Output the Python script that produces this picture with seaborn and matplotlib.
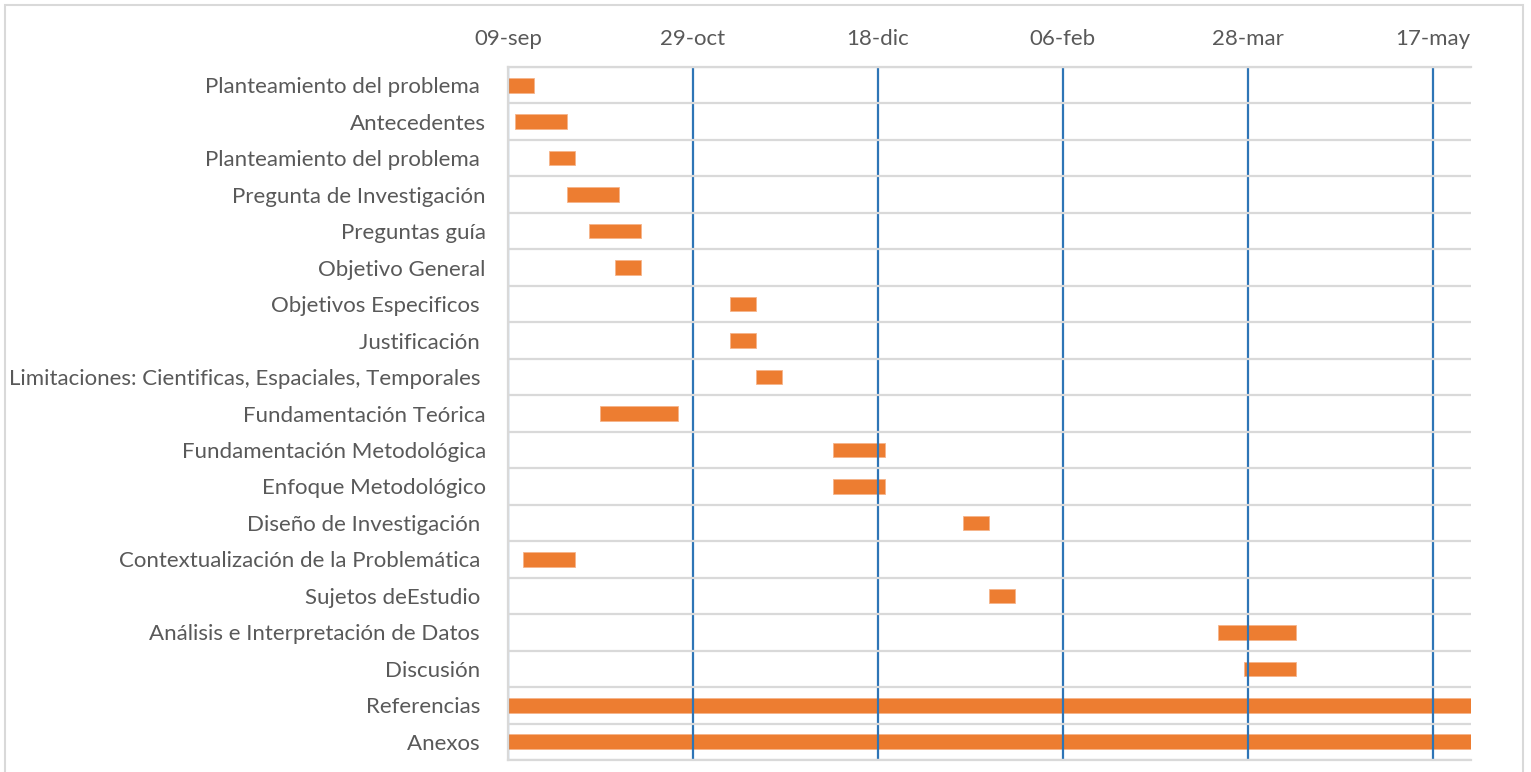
import matplotlib
matplotlib.use("Agg")
import matplotlib.pyplot as plt
import matplotlib.dates as mdates
from matplotlib.patches import Rectangle
import pandas as pd
import seaborn as sns

sns.set_theme(style="white")
plt.rcParams['font.family'] = ['Lato', 'DejaVu Sans']

# tasks (some labels keep the trailing space of the source sheet)
tasks = ["Planteamiento del problema ", "Antecedentes", "Planteamiento del problema ",
         "Pregunta de Investigación", "Preguntas guía", "Objetivo General",
         "Objetivos Especificos ", "Justificación ", "Limitaciones: Cientificas, Espaciales, Temporales ",
         "Fundamentación Teórica", "Fundamentación Metodológica", "Enfoque Metodológico",
         "Diseño de Investigación ", "Contextualización de la Problemática ", "Sujetos deEstudio ",
         "Análisis e Interpretación de Datos ", "Discusión ", "Referencias ", "Anexos "]
start = ["2018-09-09", "2018-09-11", "2018-09-20", "2018-09-25", "2018-10-01", "2018-10-08",
         "2018-11-08", "2018-11-08", "2018-11-15", "2018-10-04", "2018-12-06", "2018-12-06",
         "2019-01-10", "2018-09-13", "2019-01-17", "2019-03-20", "2019-03-27",
         "2018-09-09", "2018-09-09"]
duration = [7, 14, 7, 14, 14, 7, 7, 7, 7, 21, 14, 14, 7, 14, 7, 21, 14, 280, 280]

tick_dates = ["2018-09-09", "2018-10-29", "2018-12-18", "2019-02-06", "2019-03-28", "2019-05-17"]
tick_labels = ["09-sep", "29-oct", "18-dic", "06-feb", "28-mar", "17-may"]

df = pd.DataFrame({"task": tasks, "start": pd.to_datetime(start), "days": duration})
df["left"] = mdates.date2num(df["start"])

fig = plt.figure(figsize=(15.31, 7.72), dpi=100)
ax = fig.add_axes([508 / 1531, 12 / 772, (1471 - 508) / 1531, (760 - 67) / 772])

ax.barh(range(len(df)), df["days"], left=df["left"], height=0.4,
        color="#ed7d31", edgecolor="#f6b48a", linewidth=0.6, zorder=1)

x0 = mdates.date2num(pd.Timestamp("2018-09-09"))
ax.set_xlim(x0, x0 + 260.4)
ax.set_ylim(len(df) - 0.5, -0.5)

ax.set_xticks(mdates.date2num(pd.to_datetime(tick_dates)))
ax.set_xticklabels(tick_labels)
ax.xaxis.tick_top()
ax.set_yticks(range(len(df)))
ax.set_yticklabels(df["task"])
ax.set_yticks([i + 0.5 for i in range(-1, len(df))], minor=True)

ax.tick_params(axis="x", length=0, pad=13, labelsize=16, labelcolor="#595959")
ax.tick_params(axis="y", which="major", length=0, pad=16, labelsize=16, labelcolor="#595959")
ax.tick_params(axis="y", which="minor", length=0)

ax.grid(axis="x", which="major", color="#2e75b6", linewidth=1.6, zorder=3)
ax.grid(axis="y", which="minor", color="#d9d9d9", linewidth=1.6)
ax.grid(axis="y", which="major", visible=False)
ax.set_axisbelow(False)

for side in ["left", "top", "bottom"]:
    ax.spines[side].set_color("#d9d9d9")
    ax.spines[side].set_linewidth(1.6)
    ax.spines[side].set_zorder(4)
ax.spines["right"].set_visible(False)

fig.patches.append(Rectangle((5 / 1531, -0.02), 1518 / 1531, 1.02 - 5 / 772,
                             transform=fig.transFigure, fill=False,
                             edgecolor="#d9d9d9", linewidth=1.5))

fig.savefig("out.png", dpi=100)
